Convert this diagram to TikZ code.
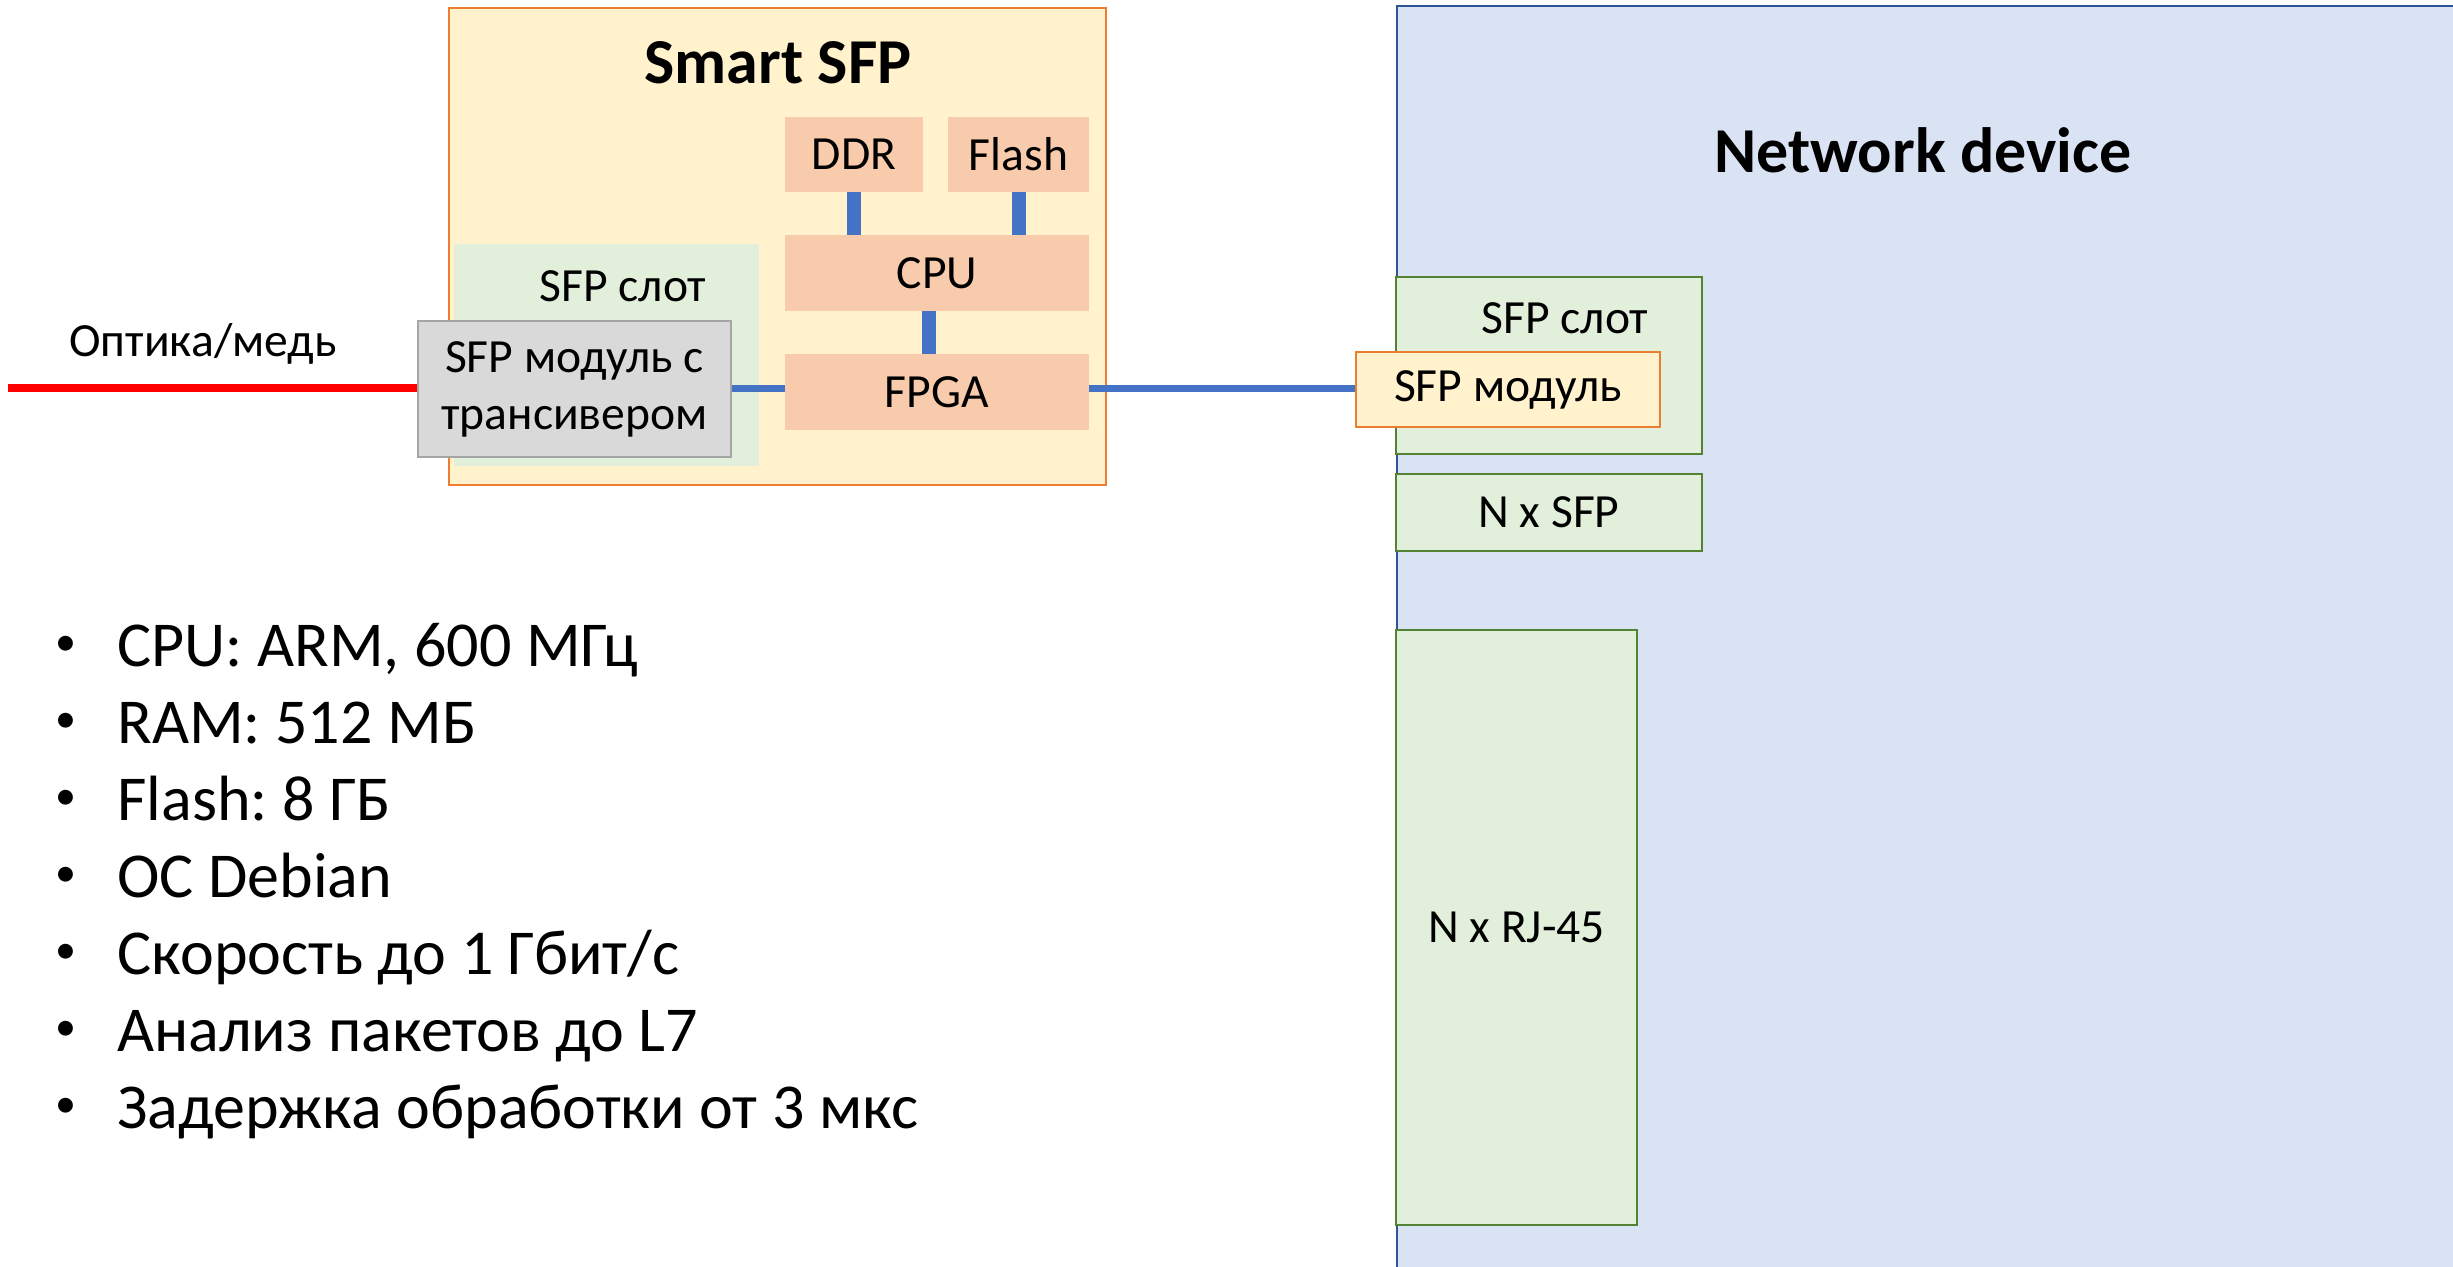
\documentclass[tikz,border=0pt]{standalone}
\usepackage{fontspec}
\setmainfont{Carlito}
\frenchspacing
\definecolor{sfpfill}{HTML}{FFF2CC}
\definecolor{sfpborder}{HTML}{ED7D31}
\definecolor{chipfill}{HTML}{F8CBAD}
\definecolor{slotfill}{HTML}{E2EFDA}
\definecolor{slotborder}{HTML}{548235}
\definecolor{modfill}{HTML}{D9D9D9}
\definecolor{modborder}{HTML}{A5A5A5}
\definecolor{netfill}{HTML}{DAE3F3}
\definecolor{netborder}{HTML}{2F5597}
\definecolor{link}{HTML}{4472C4}
\definecolor{fiber}{HTML}{FF0000}
\begin{document}
\begin{tikzpicture}[x=0.5pt,y=-0.5pt,
  lbl/.style={font=\fontsize{23.8}{28.5}\selectfont, align=center, inner sep=0pt},
  chip/.style={rectangle, fill=chipfill, draw=none, inner sep=0pt, lbl},
  slotbox/.style={rectangle, fill=slotfill, draw=slotborder, line width=1pt, inner sep=0pt},
  title/.style={font=\fontsize{32}{38}\selectfont\bfseries, inner sep=0pt},
  bul/.style={font=\fontsize{32}{38}\selectfont\frenchspacing, inner sep=0pt},
  dotstyle/.style={font=\fontsize{21}{25}\selectfont, inner sep=0pt},
  thin link/.style={draw=link, line width=3.5pt},
  thick link/.style={draw=link, line width=7pt}]
\useasboundingbox (0,0) rectangle (2453,1266);
\clip (0,0) rectangle (2453,1266);

% Network device
\node[rectangle, fill=netfill, draw=netborder, line width=1pt, inner sep=0pt,
      minimum width=532pt, minimum height=640pt, anchor=north west] (net) at (1396,5) {};
\node[title] (nettitle) at (1923,150) {Network device};
\node[slotbox, minimum width=153pt, minimum height=88.5pt] (rslot) at (1549,365.5) {};
\node[lbl] (rslottxt) at (1565,318) {SFP слот};
\node[rectangle, fill=sfpfill, draw=sfpborder, line width=1pt, inner sep=0pt, lbl,
      minimum width=152pt, minimum height=37.5pt] (rmod) at (1508,389.5) {SFP модуль};
\node[slotbox, lbl, minimum width=153pt, minimum height=38.5pt] (nsfp) at (1549,512.5) {N x SFP};
\node[slotbox, lbl, minimum width=120.5pt, minimum height=297.5pt] (rj) at (1516.5,927.5) {N x RJ-45};

% Smart SFP
\node[rectangle, fill=sfpfill, draw=sfpborder, line width=1pt, inner sep=0pt,
      minimum width=328.5pt, minimum height=238.5pt] (smart) at (777.5,246.5) {};
\node[title] (smarttitle) at (778,63) {Smart SFP};
\node[rectangle, fill=slotfill, draw=none, inner sep=0pt,
      minimum width=152.5pt, minimum height=111pt] (lslot) at (606.5,355) {};
\node[lbl] (lslottxt) at (623,286) {SFP слот};
\node[chip, minimum width=69pt, minimum height=37.5pt] (ddr) at (854,154.5) {DDR};
\node[chip, minimum width=70.5pt, minimum height=37.5pt] (flash) at (1018.5,154.5) {Flash};
\node[chip, minimum width=152pt, minimum height=38pt] (cpu) at (937,273) {CPU};
\node[chip, minimum width=152pt, minimum height=38pt] (fpga) at (937,392) {FPGA};
\node[rectangle, fill=modfill, draw=modborder, line width=1pt, inner sep=0pt, lbl,
      minimum width=156.5pt, minimum height=68pt] (lmod) at (574.5,389) {SFP модуль с\\трансивером};

% connectors
\draw[thick link] (ddr.south) -- (cpu.north -| ddr.south);
\draw[thick link] (flash.south) -- (cpu.north -| flash.south);
\coordinate (cf) at (929,0);
\draw[thick link] (cpu.south -| cf) -- (fpga.north -| cf);
\coordinate (ly) at (0,388);
\draw[thin link] (lmod.east |- ly) -- (fpga.west |- ly);
\draw[thin link] (fpga.east |- ly) -- (rmod.west |- ly);
\coordinate (fiberend) at (8,388);
\draw[draw=fiber, line width=4pt] (fiberend) -- (lmod.west |- ly);
\node[lbl] (optlbl) at (203,344) {Оптика/медь};

% bullets
\foreach \i/\t in {1/{CPU: ARM, 600 МГц},2/{RAM: 512 МБ},3/{Flash: 8 ГБ},4/{ОС Debian},5/{Скорость до 1 Гбит/с},6/{Анализ пакетов до L7},7/{Задержка обработки от 3 мкс}} {
  \node[dotstyle, anchor=center] (dot\i) at (66,{666+77*(\i-1)-20}) {•};
  \node[bul, anchor=base west] (b\i) at (117,{666+77*(\i-1)}) {\t};
}
\end{tikzpicture}
\end{document}
